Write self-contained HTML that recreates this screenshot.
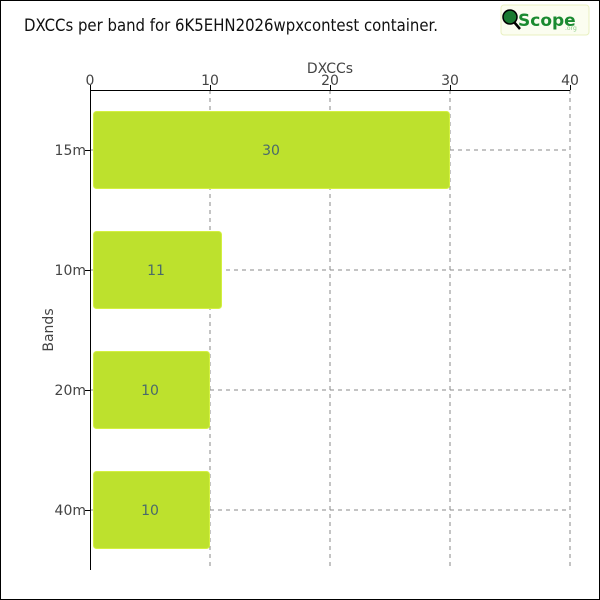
<!DOCTYPE html><html><head><style>body{margin:0;background:#fff}svg{display:block}text{font-family:"DejaVu Sans","Liberation Sans",sans-serif}</style></head><body>
<svg width="600" height="600" xmlns="http://www.w3.org/2000/svg">
<rect x="0.5" y="0.5" width="599" height="599" fill="#fff" stroke="#000"/>
<text x="24" y="31" font-size="17" fill="#111" textLength="414" lengthAdjust="spacingAndGlyphs">DXCCs per band for 6K5EHN2026wpxcontest container.</text>
<rect x="501" y="5" width="88" height="30" rx="3" fill="#fbfdf0" stroke="#e8f0c0"/>
<circle cx="510" cy="17" r="7" fill="#1a7a30" stroke="#000" stroke-width="1.5"/>
<line x1="514" y1="22" x2="520" y2="29" stroke="#000" stroke-width="2.5"/>
<text x="518" y="26" font-size="17" fill="#1a8a30" font-weight="bold">Scope</text>
<text x="565" y="30" font-size="6" fill="#8c8">.org</text>
<g stroke="#888" stroke-dasharray="4,4" stroke-width="1">
<line x1="210" y1="90" x2="210" y2="570"/><line x1="330" y1="90" x2="330" y2="570"/><line x1="450" y1="90" x2="450" y2="570"/><line x1="570" y1="90" x2="570" y2="570"/>
<line x1="90" y1="150" x2="570" y2="150"/><line x1="90" y1="270" x2="570" y2="270"/><line x1="90" y1="390" x2="570" y2="390"/><line x1="90" y1="510" x2="570" y2="510"/>
</g>
<g fill="#bde12d" stroke="#d4f040">
<rect x="93.5" y="111.5" width="356" height="77" rx="3"/>
<rect x="93.5" y="231.5" width="128" height="77" rx="3"/>
<rect x="93.5" y="351.5" width="116" height="77" rx="3"/>
<rect x="93.5" y="471.5" width="116" height="77" rx="3"/>
</g>
<g stroke="#000"><line x1="90" y1="90.5" x2="570" y2="90.5"/><line x1="90.5" y1="90" x2="90.5" y2="570"/>
<line x1="90.5" y1="85" x2="90.5" y2="90"/><line x1="210.5" y1="85" x2="210.5" y2="90"/><line x1="330.5" y1="85" x2="330.5" y2="90"/><line x1="450.5" y1="85" x2="450.5" y2="90"/><line x1="570.5" y1="85" x2="570.5" y2="90"/>
<line x1="85" y1="150.5" x2="90" y2="150.5"/><line x1="85" y1="270.5" x2="90" y2="270.5"/><line x1="85" y1="390.5" x2="90" y2="390.5"/><line x1="85" y1="510.5" x2="90" y2="510.5"/></g>
<g font-size="14" fill="#444" text-anchor="middle">
<text x="90" y="85">0</text><text x="210" y="85">10</text><text x="330" y="85">20</text><text x="450" y="85">30</text><text x="570" y="85">40</text>
<text x="330" y="73">DXCCs</text>
</g>
<g font-size="14" fill="#444" text-anchor="end">
<text x="86" y="155">15m</text><text x="86" y="275">10m</text><text x="86" y="395">20m</text><text x="86" y="515">40m</text></g>
<text transform="translate(53,330) rotate(-90)" font-size="14" fill="#444" text-anchor="middle">Bands</text>
<g font-size="14" fill="#4a6a6a" text-anchor="middle">
<text x="271" y="155">30</text><text x="156" y="275">11</text><text x="150" y="395">10</text><text x="150" y="515">10</text></g>
</svg></body></html>
